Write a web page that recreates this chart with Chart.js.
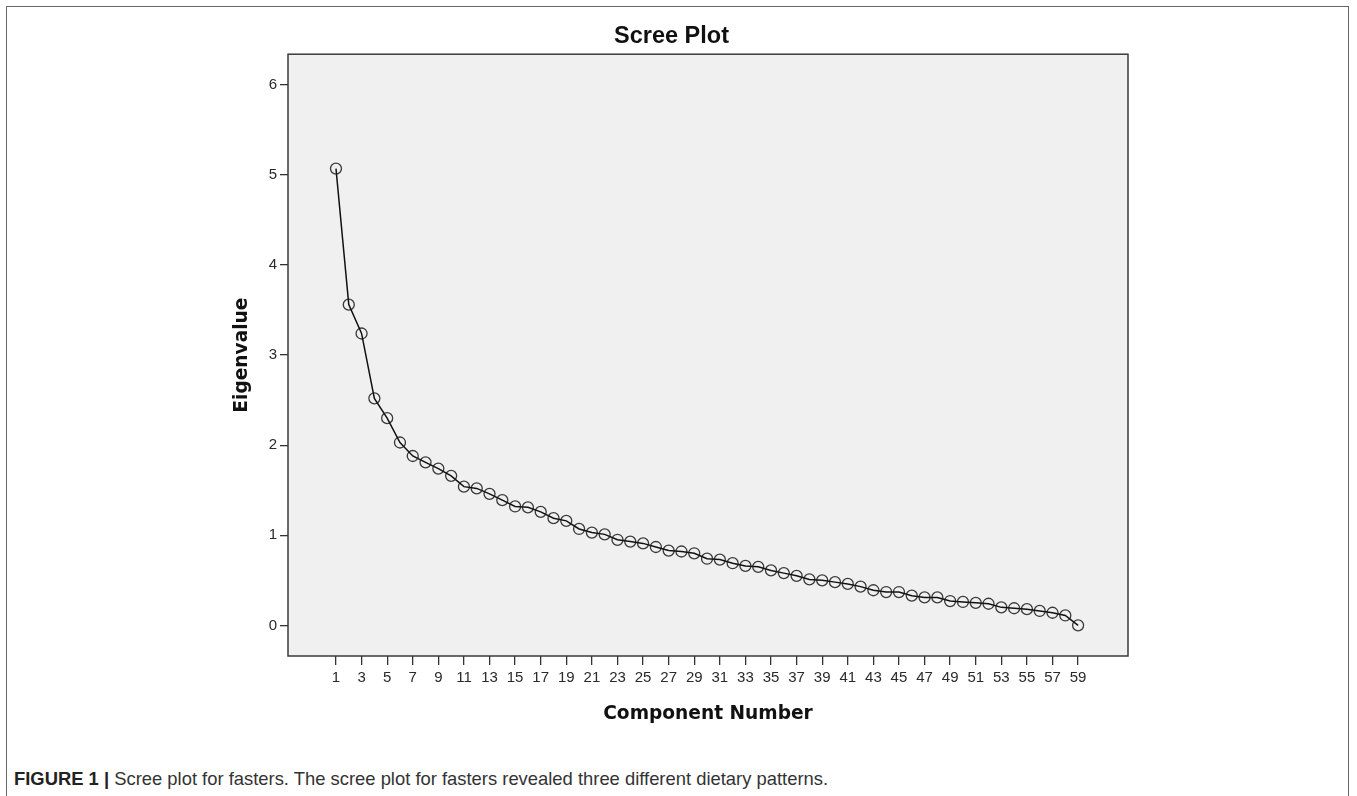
<!DOCTYPE html>
<html>
<head>
<meta charset="utf-8">
<title>Scree Plot</title>
<script src="https://cdn.jsdelivr.net/npm/chart.js@4.4.1/dist/chart.umd.min.js"></script>
<style>
  html, body { margin: 0; padding: 0; background: #fff; width: 1357px; height: 796px; overflow: hidden; }
  #frame { position: absolute; left: 6px; top: 6px; width: 1343px; height: 840px; border: 1px solid #666; box-sizing: border-box; }
  #wrap { position: absolute; left: 0; top: 0; width: 1357px; height: 740px; }
  #caption { position: absolute; left: 14px; top: 768px; font: 18.4px "Liberation Sans", Arial, sans-serif; color: #333; white-space: nowrap; }
  #caption b { color: #222; }
</style>
</head>
<body>
<div id="frame"></div>
<div id="wrap"><canvas id="scree" width="1357" height="740"></canvas></div>
<div id="caption"><b>FIGURE 1 |</b> Scree plot for fasters. The scree plot for fasters revealed three different dietary patterns.</div>

<script>
/* --- data --- */

const componentNumbers = [
  1, 2, 3, 4, 5, 6, 7, 8, 9, 10, 11, 12, 13, 14, 15, 16, 17, 18, 19, 20,
  21, 22, 23, 24, 25, 26, 27, 28, 29, 30, 31, 32, 33, 34, 35, 36, 37, 38, 39, 40,
  41, 42, 43, 44, 45, 46, 47, 48, 49, 50, 51, 52, 53, 54, 55, 56, 57, 58, 59
];

const eigenvalues = [
  5.07, 3.56, 3.24, 2.52, 2.30, 2.03, 1.88, 1.81, 1.74, 1.66,
  1.54, 1.52, 1.46, 1.39, 1.32, 1.31, 1.26, 1.19, 1.16, 1.07,
  1.03, 1.01, 0.95, 0.93, 0.91, 0.87, 0.83, 0.82, 0.80, 0.74,
  0.73, 0.69, 0.66, 0.65, 0.61, 0.58, 0.55, 0.51, 0.50, 0.48,
  0.46, 0.43, 0.39, 0.37, 0.37, 0.33, 0.31, 0.31, 0.27, 0.26,
  0.25, 0.24, 0.20, 0.19, 0.18, 0.16, 0.14, 0.11, 0.00
];

const xTickLabels = [1, 3, 5, 7, 9, 11, 13, 15, 17, 19, 21, 23, 25, 27, 29,
  31, 33, 35, 37, 39, 41, 43, 45, 47, 49, 51, 53, 55, 57, 59];
const yTickLabels = [0, 1, 2, 3, 4, 5, 6];

/* --- styling --- */

const TICK_FONT = { family: "'Liberation Sans', Arial, sans-serif", size: 15 };
const LABEL_FONT = { family: "'DejaVu Sans', sans-serif", size: 18.6, weight: 'bold' };

// grey plot background + dark frame round the chart area
const plotFrame = {
  id: 'plotFrame',
  beforeDraw(chart) {
    const { ctx, chartArea: a } = chart;
    ctx.save();
    ctx.fillStyle = '#f0f0f0';
    ctx.fillRect(a.left, a.top, a.width, a.height);
    ctx.restore();
  },
  afterDraw(chart) {
    const { ctx, chartArea: a } = chart;
    ctx.save();
    ctx.strokeStyle = '#3a3a3a';
    ctx.lineWidth = 1.5;
    ctx.strokeRect(a.left, a.top, a.width, a.height);
    ctx.restore();
  }
};

const points = componentNumbers.map((n, i) => ({ x: n, y: eigenvalues[i] }));

new Chart(document.getElementById('scree'), {
  type: 'line',
  data: {
    datasets: [{
      label: 'Eigenvalue',
      data: points,
      borderColor: '#111',
      borderWidth: 1.5,
      pointRadius: 5.5,
      pointBorderColor: 'rgba(25,25,25,0.85)',
      pointBorderWidth: 1.3,
      pointBackgroundColor: 'transparent',
      tension: 0,
    }]
  },
  plugins: [plotFrame],
  options: {
    responsive: false,
    animation: false,
    layout: { padding: { left: 215, right: 229, top: 0, bottom: 0 } },
    plugins: {
      legend: { display: false },
      tooltip: { enabled: false },
      title: {
        display: true,
        text: 'Scree Plot',
        color: '#111',
        font: { family: "'Liberation Sans', Arial, sans-serif", size: 23.5, weight: 'bold' },
        padding: { top: 22, bottom: 4 },
      }
    },
    scales: {
      x: {
        type: 'linear',
        min: -2.75,
        max: 62.9,
        afterBuildTicks: (s) => { s.ticks = xTickLabels.map(v => ({ value: v })); },
        afterFit: (s) => { s.height = 84; },
        border: { display: false },
        grid: { drawOnChartArea: false, drawTicks: true, tickLength: 9, tickColor: '#333', lineWidth: 1.3 },
        ticks: { color: '#2a2a2a', font: TICK_FONT, padding: 4, maxRotation: 0, autoSkip: false },
        title: { display: true, text: 'Component Number', color: '#111', font: LABEL_FONT, padding: { top: 0, bottom: 15 } },
      },
      y: {
        type: 'linear',
        min: -0.34,
        max: 6.34,
        afterBuildTicks: (s) => { s.ticks = yTickLabels.map(v => ({ value: v })); },
        afterFit: (s) => { s.width = 73; },
        border: { display: false },
        grid: { drawOnChartArea: false, drawTicks: true, tickLength: 8, tickColor: '#333', lineWidth: 1.3 },
        ticks: { color: '#2a2a2a', font: TICK_FONT, padding: 3 },
        title: { display: true, text: 'Eigenvalue', color: '#111', font: LABEL_FONT, padding: { top: 16, bottom: 0 } },
      }
    }
  }
});
</script>
</body>
</html>
